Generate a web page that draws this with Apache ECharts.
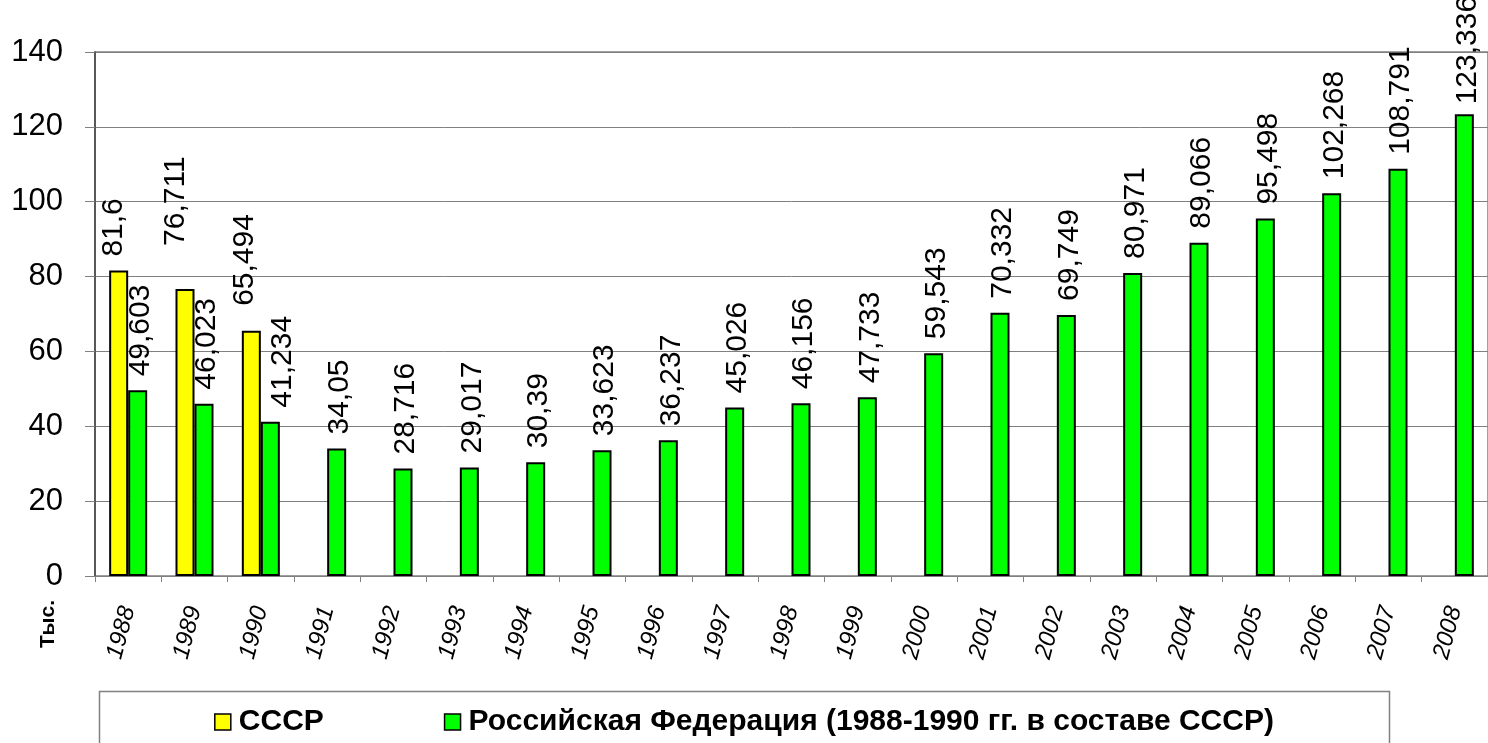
<!DOCTYPE html>
<html>
<head>
<meta charset="utf-8">
<script src="https://cdn.jsdelivr.net/npm/echarts@6/dist/echarts.min.js"></script>
<style>
html,body{margin:0;padding:0;background:#fff;}
#c{width:1488px;height:743px;}
</style>
</head>
<body>
<div id="c"></div>
<script>
const years = ['1988','1989','1990','1991','1992','1993','1994','1995','1996','1997','1998','1999','2000','2001','2002','2003','2004','2005','2006','2007','2008'];
const ussr = [81.6, 76.711, 65.494, null, null, null, null, null, null, null, null, null, null, null, null, null, null, null, null, null, null];
const russia = [49.603, 46.023, 41.234, 34.05, 28.716, 29.017, 30.39, 33.623, 36.237, 45.026, 46.156, 47.733, 59.543, 70.332, 69.749, 80.971, 89.066, 95.498, 102.268, 108.791, 123.336];
const yTicks = [0, 20, 40, 60, 80, 100, 120, 140];
const seriesNames = ['СССР', 'Российская Федерация (1988-1990 гг. в составе СССР)'];
const unitLabel = 'Тыс.';

// label nudges (style only), keyed by category index: [screen dx, screen dy] in pixels
const ussrLabelNudge = {0: [-5, 0], 1: [-9, -29], 2: [-7, -11]};
const russiaLabelNudge = {2: [12, 0], 20: [3, 4]};

const FONT = 'Liberation Sans, Arial, sans-serif';
const fmt = p => (p.value == null ? '' : String(p.value).replace('.', ','));
// label is rotated 90deg, so its offset is expressed in the rotated frame
function withNudges(values, nudges, defNudge) {
  return values.map((v, i) => {
    const s = nudges[i] || defNudge;
    return {value: v, label: {offset: [-s[1], s[0]]}};
  });
}
const labelCfg = {
  show: true, position: 'top', distance: 14, rotate: 90,
  align: 'left', verticalAlign: 'middle',
  fontFamily: FONT, fontSize: 30, color: '#000',
  formatter: fmt
};

const chart = echarts.init(document.getElementById('c'), null, {renderer: 'canvas'});
chart.setOption({
  animation: false,
  backgroundColor: '#fff',
  grid: {left: 95, top: 52, width: 1406, height: 524, containLabel: false,
         show: true, borderColor: '#808080', borderWidth: 1.5, backgroundColor: 'transparent'},
  legend: {
    data: seriesNames,
    left: 'center', top: 702,
    itemWidth: 16, itemHeight: 16, itemGap: 120, icon: 'rect',
    textStyle: {fontFamily: FONT, fontSize: 30, fontWeight: 'bold', color: '#000', padding: [0,0,0,3]},
    itemStyle: {borderColor: '#000', borderWidth: 1.5}
  },
  xAxis: {
    type: 'category', data: years,
    axisLine: {lineStyle: {color: '#808080', width: 1}},
    axisTick: {show: true, length: 6, lineStyle: {color: '#808080'}},
    axisLabel: {rotate: 75, margin: 31, fontSize: 24, fontStyle: 'italic', fontFamily: FONT, color: '#000', interval: 0}
  },
  yAxis: {
    type: 'value', min: yTicks[0], max: yTicks[yTicks.length-1], interval: 20,
    axisLine: {show: true, lineStyle: {color: '#404040', width: 1.5}},
    axisTick: {show: true, length: 10, lineStyle: {color: '#808080'}},
    splitLine: {show: true, lineStyle: {color: '#808080', width: 1}},
    axisLabel: {margin: 32, fontSize: 31, fontFamily: FONT, color: '#000'}
  },
  series: [
    {name: seriesNames[0], type: 'bar', data: withNudges(ussr, ussrLabelNudge, [-5, 0]), barWidth: 19, barGap: '0%',
     itemStyle: {color: '#FFFF00', borderColor: '#000', borderWidth: 2}, label: labelCfg},
    {name: seriesNames[1], type: 'bar', data: withNudges(russia, russiaLabelNudge, [3, 0]), barWidth: 19, barGap: '0%',
     itemStyle: {color: '#00FF00', borderColor: '#000', borderWidth: 2}, label: labelCfg}
  ],
  graphic: [
    {type: 'rect', left: 97, top: 689, shape: {width: 1290, height: 80},
     style: {fill: 'none', stroke: '#808080', lineWidth: 1.5}, silent: true},
    {type: 'text', x: 48, y: 624, rotation: Math.PI/2,
     style: {text: unitLabel, font: 'bold 21px "Liberation Sans", Arial, sans-serif', fill: '#000', align: 'center', verticalAlign: 'middle'}}
  ]
});
</script>
</body>
</html>
